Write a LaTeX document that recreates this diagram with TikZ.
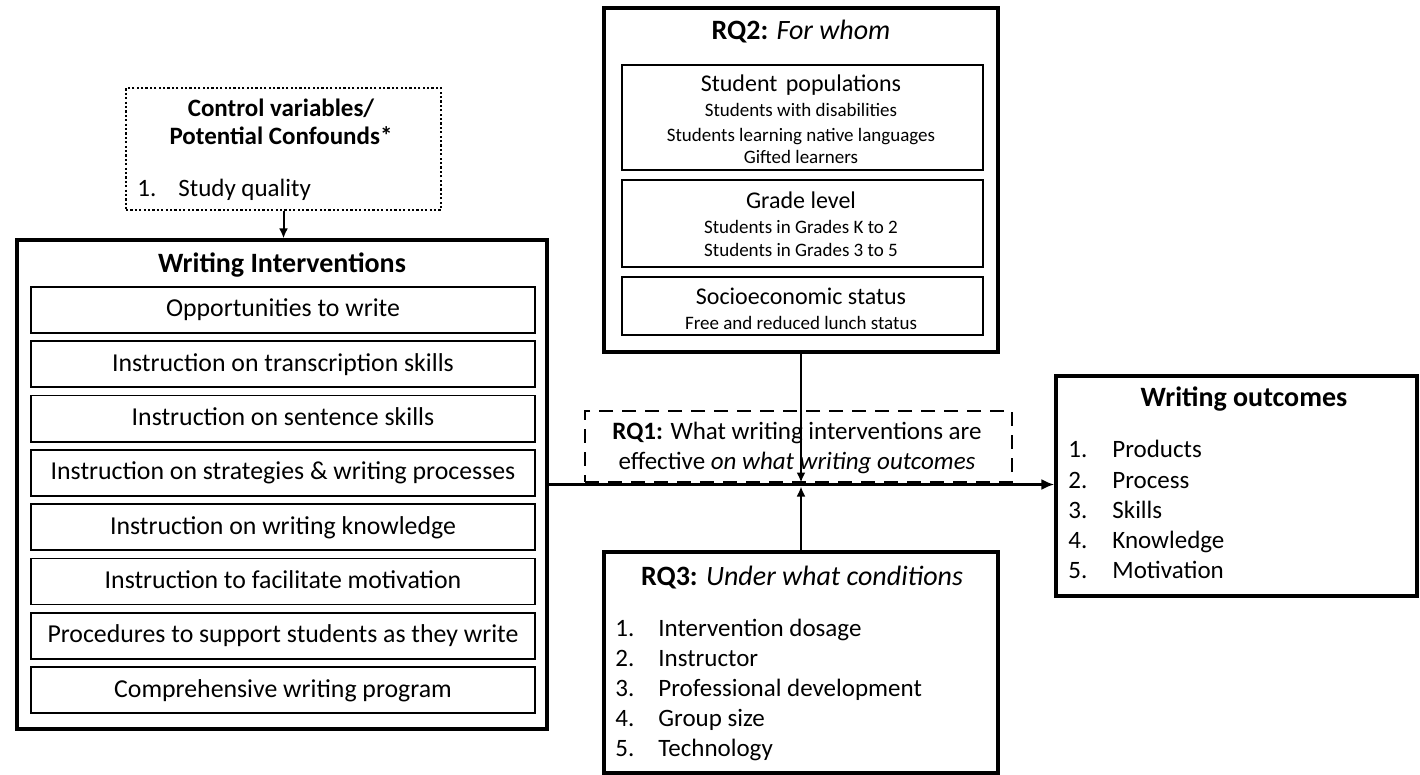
\documentclass[tikz,border=0pt]{standalone}
\usepackage{fontspec}
\setmainfont{Carlito}
\usetikzlibrary{arrows.meta}
\begin{document}
\begin{tikzpicture}[x=0.5pt,y=-0.5pt,
  outerbox/.style={draw, line width=1.6pt, inner sep=0pt},
  innerbox/.style={draw, line width=0.9pt, inner sep=0pt},
  dotbox/.style={draw, line width=1.3pt, dash pattern=on 1.1pt off 1.1pt, inner sep=0pt},
  dashbox/.style={draw, line width=1.3pt, dash pattern=on 7pt off 4.5pt, inner sep=0pt},
  txt/.style={inner sep=0pt, text height=0.75em, text depth=0.05em},
  head/.style={txt, font=\fontsize{14}{17}\selectfont},
  body/.style={txt, font=\fontsize{12.5}{15}\selectfont},
  wibody/.style={txt, font=\fontsize{12.9}{15}\selectfont},
  small/.style={txt, font=\fontsize{9.5}{11}\selectfont},
  thinarrow/.style={line width=1pt, -{Latex[length=5pt,width=4.5pt]}},
  mainarrow/.style={line width=1.5pt, -{Latex[length=6.5pt,width=5.5pt]}}
]
\useasboundingbox (0,0) rectangle (1420,775);

% control variables box
\node[dotbox, minimum width=157.5pt, minimum height=61pt] (ctrl) at (283.5,149) {};
\node[body, font=\fontsize{12.5}{15}\selectfont\bfseries] (ctrlt1) at (281,110) {Control variables/};
\node[body, font=\fontsize{12.5}{15}\selectfont\bfseries] (ctrlt2) at (281,138) {Potential Confounds*};
\node[body, anchor=west] (ctrln1) at (137,190) {1.};
\node[body, anchor=west] (ctrll1) at (178,190) {Study quality};

% writing interventions
\node[outerbox, minimum width=265pt, minimum height=244.5pt] (wi) at (282,484.5) {};
\node[head, font=\fontsize{14}{17}\selectfont\bfseries] (wititle) at (282,266) {Writing Interventions};
\foreach \t [count=\i from 0] in {Opportunities to write,
    Instruction on transcription skills,
    Instruction on sentence skills,
    Instruction on strategies \& writing processes,
    Instruction on writing knowledge,
    Instruction to facilitate motivation,
    Procedures to support students as they write,
    Comprehensive writing program}
  \node[innerbox, wibody, minimum width=252pt, minimum height=23pt] (wi\i) at (283,310+54.3*\i) {\t};

% RQ2
\node[outerbox, minimum width=197pt, minimum height=172pt] (rq2) at (801,180) {};
\node[head] (rq2t) at (801,33) {\textbf{RQ2:} \textit{For whom}};
\node[innerbox, minimum width=180.5pt, minimum height=52.5pt] (pop) at (802.5,117.5) {};
\node[innerbox, minimum width=180.5pt, minimum height=43.5pt] (grade) at (802.5,223.5) {};
\node[innerbox, minimum width=180.5pt, minimum height=29pt] (ses) at (802.5,306) {};
\node[body, font=\fontsize{12}{14}\selectfont] (popt) at (801,85) {Student\hspace{0.35em}populations};
\node[small] (pop1) at (801,110) {Students with disabilities};
\node[small] (pop2) at (801,135) {Students learning native languages};
\node[small] (pop3) at (801,157) {Gifted learners};
\node[body, font=\fontsize{12}{14}\selectfont] (gradet) at (801,202) {Grade level};
\node[small] (grade1) at (801,227) {Students in Grades K to 2};
\node[small] (grade2) at (801,250) {Students in Grades 3 to 5};
\node[body, font=\fontsize{12}{14}\selectfont] (sest) at (801,298) {Socioeconomic status};
\node[small] (ses1) at (801,323) {Free and reduced lunch status};

% RQ1
\node[dashbox, minimum width=213.5pt, minimum height=35.5pt] (rq1) at (798.5,446.5) {};
\node[body] (rq1a) at (797,432) {\textbf{RQ1:} What writing interventions are};
\node[body] (rq1b) at (797,462) {effective \textit{on what writing outcomes}};

% writing outcomes
\node[outerbox, minimum width=180.5pt, minimum height=110pt] (out) at (1236.5,486) {};
\node[head, font=\fontsize{14}{17}\selectfont\bfseries] (outt) at (1244,400) {Writing outcomes};
\foreach \t [count=\i] in {Products, Process, Skills, Knowledge, Motivation} {
  \node[body, anchor=west] (outn\i) at (1068,421+30*\i) {\i.};
  \node[body, anchor=west] (outl\i) at (1112,421+30*\i) {\t};
}

% RQ3
\node[outerbox, minimum width=197pt, minimum height=110.5pt] (rq3) at (801,662.5) {};
\node[head] (rq3t) at (802,578) {\textbf{RQ3:} \textit{Under what conditions}};
\foreach \t [count=\i] in {Intervention dosage, Instructor, Professional development, Group size, Technology} {
  \node[body, anchor=west] (rq3n\i) at (615,599+30*\i) {\i.};
  \node[body, anchor=west] (rq3l\i) at (658,599+30*\i) {\t};
}

% connectors
\draw[thinarrow] (ctrl.south) -- (ctrl.south |- wi.north);
\draw[mainarrow] (wi.east) -- (wi.east -| out.west);
\coordinate (jn) at (rq2.south |- wi.east);
\draw[thinarrow] (rq2.south) -- ([yshift=1pt]jn);
\draw[thinarrow] (rq3.north) -- ([yshift=-1pt]jn);
\end{tikzpicture}
\end{document}
